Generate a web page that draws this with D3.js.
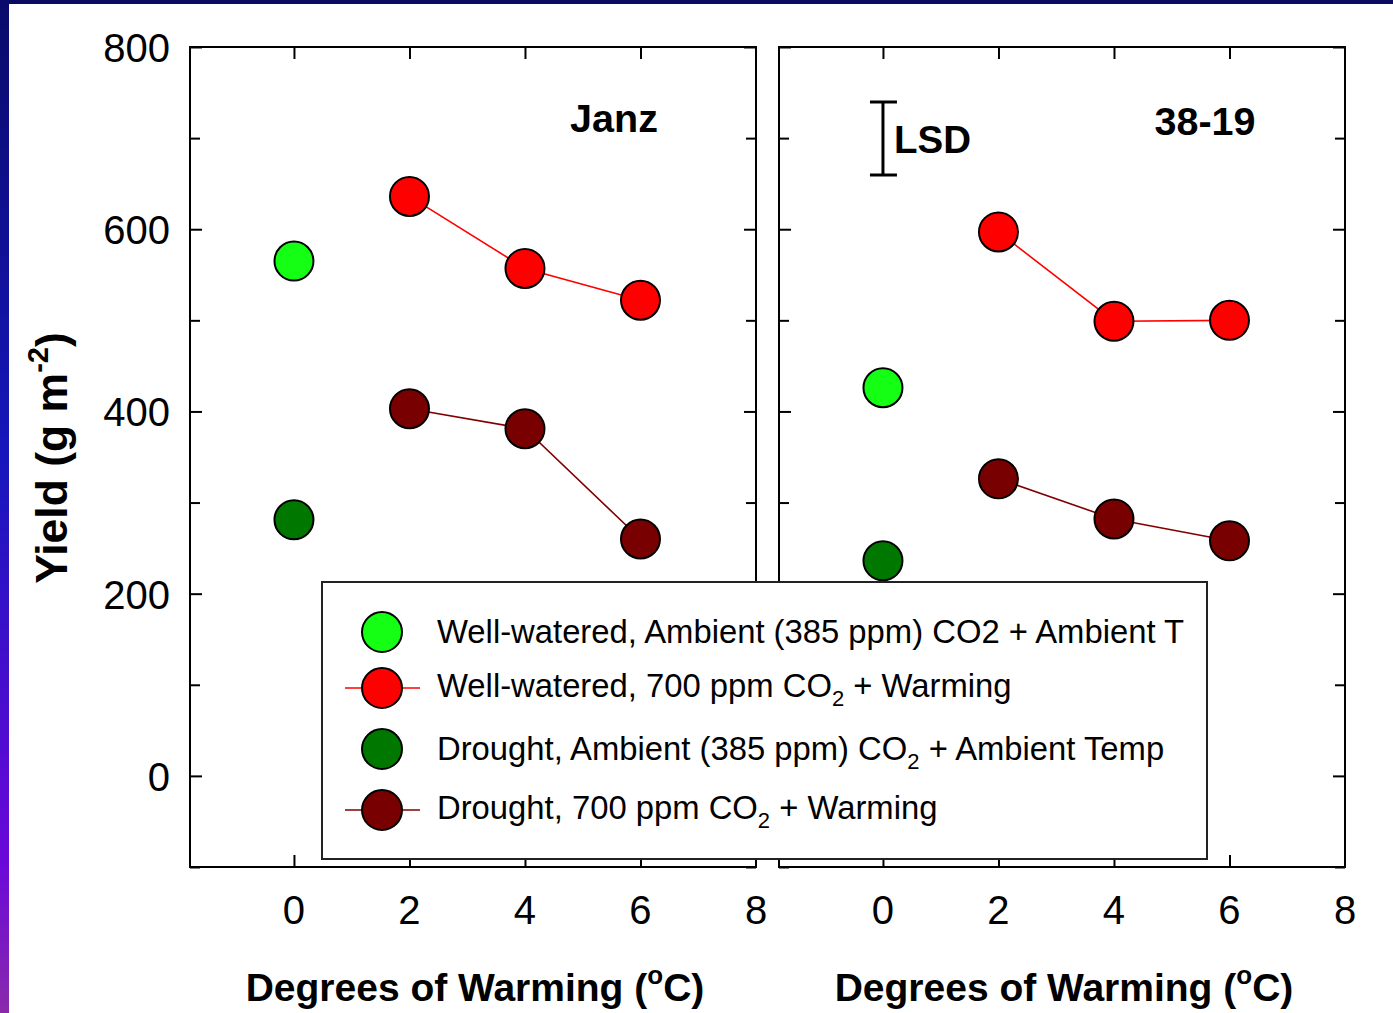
<!DOCTYPE html>
<html>
<head>
<meta charset="utf-8">
<script src="https://cdn.jsdelivr.net/npm/d3@7"></script>
<style>
  html, body { margin: 0; padding: 0; background: #fff; }
  svg { display: block; }
  text { font-family: "Liberation Sans", Arial, sans-serif; fill: #000; }
</style>
</head>
<body>
<svg id="chart" width="1393" height="1013"></svg>
<script>
// Warming levels (°C) on the x axis
const warming = [0, 2, 4, 6];
const cultivars = ["Janz", "38-19"];

// Yield (g m-2), one array per cultivar
const wwAmbientJanz = [565];
const wwElevatedJanz = [636, 557, 522];
const drAmbientJanz = [281];
const drElevatedJanz = [403, 381, 260];

const wwAmbient3819 = [426];
const wwElevated3819 = [597, 499, 500];
const drAmbient3819 = [236];
const drElevated3819 = [326, 282, 258];

const xTicks = [0, 2, 4, 6, 8];
const yTicks = [0, 200, 400, 600, 800];
const yMinorTicks = [-100, 100, 300, 500, 700];

const seriesNames = [
  "Well-watered, Ambient (385 ppm) CO2 + Ambient T",
  "Well-watered, 700 ppm CO|2| + Warming",
  "Drought, Ambient (385 ppm) CO|2| + Ambient Temp",
  "Drought, 700 ppm CO|2| + Warming"
];
const seriesFill = ["#14ff14", "#ff0000", "#007800", "#780000"];
const seriesLine = [null, "#ff0000", null, "#800000"];

const panels = [
  { name: cultivars[0], x0: 190, x1: 756,
    series: [wwAmbientJanz, wwElevatedJanz, drAmbientJanz, drElevatedJanz] },
  { name: cultivars[1], x0: 779, x1: 1345,
    series: [wwAmbient3819, wwElevated3819, drAmbient3819, drElevated3819] }
];

const plotTop = 47, plotBottom = 867;
const svg = d3.select("#chart");

// Slide frame: dark top rule and gradient strip on the left
const defs = svg.append("defs");
const grad = defs.append("linearGradient").attr("id", "edge")
  .attr("x1", 0).attr("y1", 0).attr("x2", 0).attr("y2", 1);
[["0%", "#0a0a6a"], ["45%", "#1616bc"], ["85%", "#6a08da"], ["100%", "#8a2aaa"]]
  .forEach(([o, c]) => grad.append("stop").attr("offset", o).attr("stop-color", c));
svg.append("rect").attr("x", 0).attr("y", 0).attr("width", 1393).attr("height", 4).attr("fill", "#0a0a60");
svg.append("rect").attr("x", 0).attr("y", 0).attr("width", 9).attr("height", 1013).attr("fill", "url(#edge)");

const y = d3.scaleLinear().domain([-100, 800]).range([plotBottom, plotTop]);

panels.forEach((p, pi) => {
  const x = d3.scaleLinear().domain([-1.8, 8]).range([p.x0, p.x1]);
  const g = svg.append("g");

  // Inward ticks on all four sides
  g.append("g").attr("transform", `translate(${p.x0},0)`)
    .call(d3.axisLeft(y).tickValues(yTicks).tickSize(-12).tickFormat(""));
  g.append("g").attr("transform", `translate(${p.x0},0)`)
    .call(d3.axisLeft(y).tickValues(yMinorTicks).tickSize(-10).tickFormat(""));
  g.append("g").attr("transform", `translate(${p.x1},0)`)
    .call(d3.axisRight(y).tickValues(yTicks).tickSize(-12).tickFormat(""));
  g.append("g").attr("transform", `translate(${p.x1},0)`)
    .call(d3.axisRight(y).tickValues(yMinorTicks).tickSize(-10).tickFormat(""));
  g.append("g").attr("transform", `translate(0,${plotTop})`)
    .call(d3.axisTop(x).tickValues(warming).tickSize(-12).tickFormat(""));
  g.append("g").attr("transform", `translate(0,${plotBottom})`)
    .call(d3.axisBottom(x).tickValues(warming).tickSize(-12).tickFormat(""));
  g.selectAll(".domain").remove();
  g.selectAll(".tick line").attr("stroke", "#000").attr("stroke-width", 2);

  g.append("rect").attr("x", p.x0).attr("y", plotTop)
    .attr("width", p.x1 - p.x0).attr("height", plotBottom - plotTop)
    .attr("fill", "none").attr("stroke", "#000").attr("stroke-width", 2);

  // Tick labels
  g.selectAll(".xl").data(xTicks).join("text")
    .attr("x", d => x(d)).attr("y", 924)
    .attr("text-anchor", "middle").attr("font-size", 40).text(d => d);
  if (pi === 0) {
    g.selectAll(".yl").data(yTicks).join("text")
      .attr("x", 170).attr("y", d => y(d) + 15)
      .attr("text-anchor", "end").attr("font-size", 40).text(d => d);
  }

  // Axis title
  const t = g.append("text").attr("x", (x(0) + x(8)) / 2 - 50).attr("y", 1001)
    .attr("text-anchor", "middle").attr("font-size", 39).attr("font-weight", "bold");
  t.append("tspan").text("Degrees of Warming (");
  t.append("tspan").attr("font-size", 26).attr("dy", -17).text("o");
  t.append("tspan").attr("dy", 17).text("C)");

  // Cultivar name
  g.append("text").attr("x", pi === 0 ? 614 : 1205).attr("y", pi === 0 ? 132 : 135)
    .attr("text-anchor", "middle").attr("font-size", 39.5).attr("font-weight", "bold").text(p.name);

  // Series lines and markers
  p.series.forEach((vals, si) => {
    const xs = vals.length === 1 ? [warming[0]] : warming.slice(1);
    const pts = vals.map((v, i) => [xs[i], v]);
    if (seriesLine[si]) {
      g.append("path").datum(pts)
        .attr("d", d3.line().x(d => x(d[0])).y(d => y(d[1])))
        .attr("fill", "none").attr("stroke", seriesLine[si]).attr("stroke-width", 1.6);
    }
    g.selectAll(null).data(pts).join("circle")
      .attr("cx", d => x(d[0])).attr("cy", d => y(d[1])).attr("r", 19.5)
      .attr("fill", seriesFill[si]).attr("stroke", "#000").attr("stroke-width", 2);
  });

  // Least significant difference bar
  if (pi === 1) {
    const lsdTop = 102, lsdBot = 175, lx = x(0);
    const lsd = g.append("g").attr("stroke", "#000").attr("stroke-width", 3);
    lsd.append("line").attr("x1", lx).attr("x2", lx).attr("y1", lsdTop).attr("y2", lsdBot);
    lsd.append("line").attr("x1", lx - 13).attr("x2", lx + 14).attr("y1", lsdTop).attr("y2", lsdTop);
    lsd.append("line").attr("x1", lx - 13).attr("x2", lx + 14).attr("y1", lsdBot).attr("y2", lsdBot);
    g.append("text").attr("x", 894).attr("y", 153).attr("font-size", 38.5)
      .attr("font-weight", "bold").text("LSD");
  }
});

// Y axis title
const yt = svg.append("text").attr("transform", "translate(67,458) rotate(-90)")
  .attr("text-anchor", "middle").attr("font-size", 44.5).attr("font-weight", "bold");
yt.append("tspan").text("Yield (g m");
yt.append("tspan").attr("font-size", 29).attr("dy", -19).text("-2");
yt.append("tspan").attr("dy", 19).text(")");

// Legend
const lg = svg.append("g");
lg.append("rect").attr("x", 322).attr("y", 582).attr("width", 885).attr("height", 277)
  .attr("fill", "#fff").attr("stroke", "#222").attr("stroke-width", 2);
const rowY = [632, 688, 749, 810];
seriesNames.forEach((name, i) => {
  const cy = rowY[i];
  if (seriesLine[i]) {
    lg.append("line").attr("x1", 345).attr("x2", 420).attr("y1", cy).attr("y2", cy)
      .attr("stroke", seriesLine[i]).attr("stroke-width", 1.6);
  }
  lg.append("circle").attr("cx", 382).attr("cy", cy).attr("r", 20)
    .attr("fill", seriesFill[i]).attr("stroke", "#000").attr("stroke-width", 2);
  const tx = lg.append("text").attr("x", 437).attr("y", cy + 11 - (i % 2 ? 2 : 0)).attr("font-size", 32.8);
  name.split("|").forEach((part, k) => {
    if (k % 2 === 1) {
      tx.append("tspan").attr("font-size", 22).attr("dy", 9).text(part);
    } else {
      const s = tx.append("tspan").text(part);
      if (k > 0) s.attr("dy", -9);
    }
  });
});
</script>
</body>
</html>
